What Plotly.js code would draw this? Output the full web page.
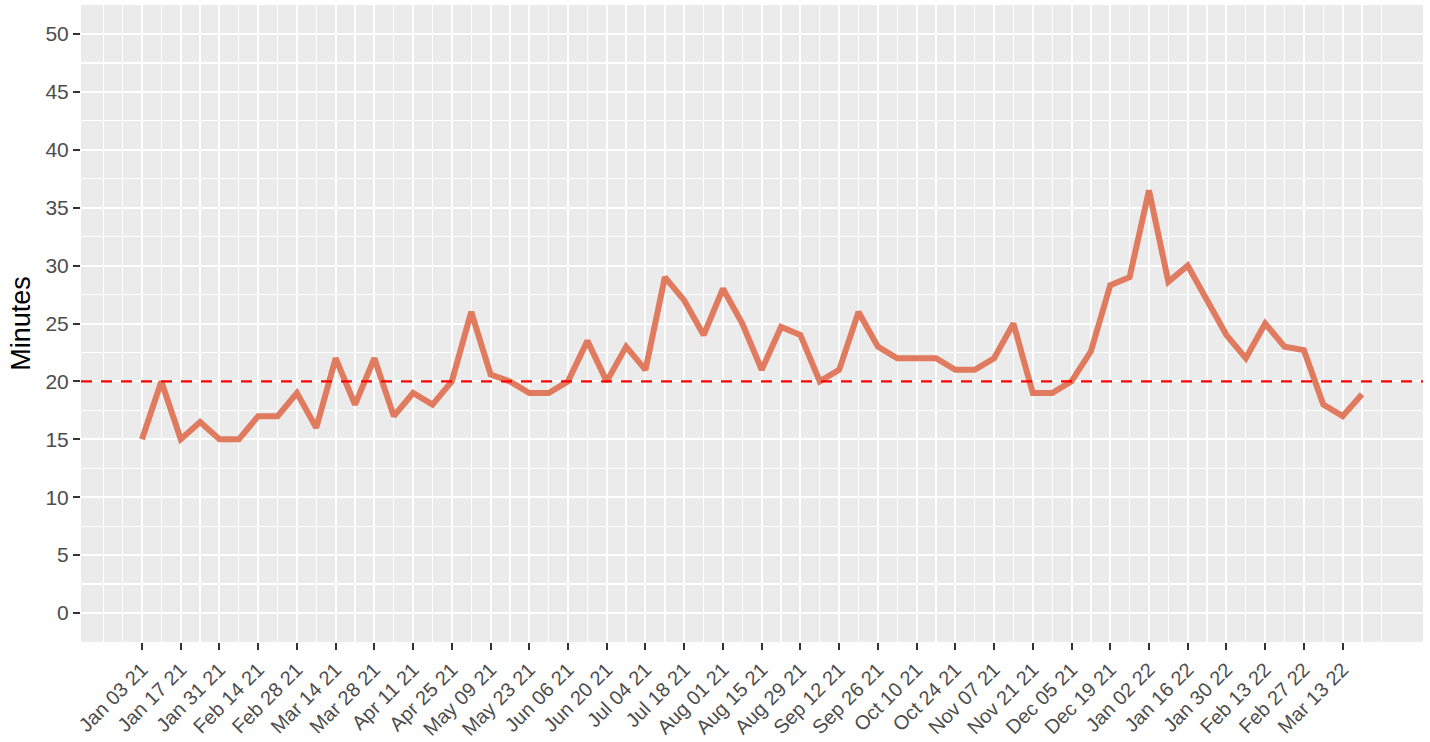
<!DOCTYPE html>
<html>
<head>
<meta charset="utf-8">
<script src="https://cdn.plot.ly/plotly-3.0.1.min.js"></script>
<style>html,body{margin:0;padding:0;background:#fff;}#chart{width:1430px;height:742px;}</style>
</head>
<body>
<div id="chart"></div>
<script>
// Weekly dates (week starting)
const weeks = [
  "2021-01-03","2021-01-10","2021-01-17","2021-01-24","2021-01-31","2021-02-07","2021-02-14","2021-02-21",
  "2021-02-28","2021-03-07","2021-03-14","2021-03-21","2021-03-28","2021-04-04","2021-04-11","2021-04-18",
  "2021-04-25","2021-05-02","2021-05-09","2021-05-16","2021-05-23","2021-05-30","2021-06-06","2021-06-13",
  "2021-06-20","2021-06-27","2021-07-04","2021-07-11","2021-07-18","2021-07-25","2021-08-01","2021-08-08",
  "2021-08-15","2021-08-22","2021-08-29","2021-09-05","2021-09-12","2021-09-19","2021-09-26","2021-10-03",
  "2021-10-10","2021-10-17","2021-10-24","2021-10-31","2021-11-07","2021-11-14","2021-11-21","2021-11-28",
  "2021-12-05","2021-12-12","2021-12-19","2021-12-26","2022-01-02","2022-01-09","2022-01-16","2022-01-23",
  "2022-01-30","2022-02-06","2022-02-13","2022-02-20","2022-02-27","2022-03-06","2022-03-13","2022-03-20"
];
// Minutes per week
const minutes = [
  15, 20, 15, 16.5, 15, 15, 17, 17,
  19, 16, 22, 18, 22, 17, 19, 18,
  20, 26, 20.6, 20, 19, 19, 20, 23.5,
  20, 23, 21, 29, 27, 24, 28, 25,
  21, 24.7, 24, 20, 21, 26, 23, 22,
  22, 22, 21, 21, 22, 25, 19, 19,
  20, 22.6, 28.3, 29, 36.5, 28.6, 30, 27,
  24, 22, 25, 23, 22.7, 18, 17, 18.9
];
// Reference line
const targetMinutes = 20;
// Labeled x ticks
const tickDates = [
  "2021-01-03","2021-01-17","2021-01-31","2021-02-14","2021-02-28","2021-03-14","2021-03-28","2021-04-11",
  "2021-04-25","2021-05-09","2021-05-23","2021-06-06","2021-06-20","2021-07-04","2021-07-18","2021-08-01",
  "2021-08-15","2021-08-29","2021-09-12","2021-09-26","2021-10-10","2021-10-24","2021-11-07","2021-11-21",
  "2021-12-05","2021-12-19","2022-01-02","2022-01-16","2022-01-30","2022-02-13","2022-02-27","2022-03-13"
];
const tickLabels = [
  "Jan 03 21","Jan 17 21","Jan 31 21","Feb 14 21","Feb 28 21","Mar 14 21","Mar 28 21","Apr 11 21",
  "Apr 25 21","May 09 21","May 23 21","Jun 06 21","Jun 20 21","Jul 04 21","Jul 18 21","Aug 01 21",
  "Aug 15 21","Aug 29 21","Sep 12 21","Sep 26 21","Oct 10 21","Oct 24 21","Nov 07 21","Nov 21 21",
  "Dec 05 21","Dec 19 21","Jan 02 22","Jan 16 22","Jan 30 22","Feb 13 22","Feb 27 22","Mar 13 22"
];
// Unlabeled gridline dates
const gridExtraDates = ["2020-12-20","2020-12-27","2021-01-10","2021-01-24","2021-02-07","2021-02-21","2021-03-07",
  "2021-03-21","2021-04-04","2021-04-18","2021-05-02","2021-05-16","2021-05-30","2021-06-13","2021-06-27",
  "2021-07-11","2021-07-25","2021-08-08","2021-08-22","2021-09-05","2021-09-19","2021-10-03","2021-10-17",
  "2021-10-31","2021-11-14","2021-11-28","2021-12-12","2021-12-26","2022-01-09","2022-01-23","2022-02-06",
  "2022-02-20","2022-03-06","2022-03-20","2022-03-27"];
const yTicks = [0,5,10,15,20,25,30,35,40,45,50];
const yMinor = [-2.5,2.5,7.5,12.5,17.5,22.5,27.5,32.5,37.5,42.5,47.5,52.5];

const FONT = "Liberation Sans, Arial, Helvetica, sans-serif";

const trace = {
  x: weeks, y: minutes, type: "scatter", mode: "lines",
  line: {color: "#E07B5F", width: 6},
  hoverinfo: "x+y"
};

const layout = {
  width: 1430, height: 742,
  margin: {l: 81, r: 7, t: 5, b: 100},
  paper_bgcolor: "#ffffff",
  plot_bgcolor: "#EBEBEB",
  showlegend: false,
  font: {family: FONT, color: "#4D4D4D"},
  xaxis: {
    type: "date",
    range: ["2020-12-11 22:48", "2022-04-11 01:12"],
    tickmode: "array", tickvals: tickDates, ticktext: tickLabels,
    tickangle: -45,
    tickfont: {family: FONT, size: 20, color: "#4D4D4D"},
    ticks: "outside", ticklen: 7, tickwidth: 2, tickcolor: "#333333",
    showgrid: true, gridcolor: "#ffffff", gridwidth: 2,
    minor: {tickmode: "array", tickvals: gridExtraDates, showgrid: true, gridcolor: "#ffffff", gridwidth: 1.3, ticks: ""},
    zeroline: false, showline: false, fixedrange: true
  },
  yaxis: {
    range: [-2.5, 52.5],
    tickmode: "array", tickvals: yTicks,
    tickfont: {family: FONT, size: 21, color: "#4D4D4D"},
    ticks: "outside", ticklen: 7, tickwidth: 2, tickcolor: "#333333",
    showgrid: true, gridcolor: "#ffffff", gridwidth: 2,
    minor: {tickmode: "array", tickvals: yMinor, showgrid: true, gridcolor: "#ffffff", gridwidth: 1.3, ticks: ""},
    zeroline: false, showline: false, fixedrange: true,
    title: {text: "Minutes", font: {family: FONT, size: 27, color: "#000000"}, standoff: 6}
  },
  shapes: [{
    type: "line", xref: "paper", x0: 0, x1: 1, yref: "y", y0: targetMinutes, y1: targetMinutes,
    line: {color: "#FF0000", width: 2.2, dash: "11px,9px"}, layer: "above"
  }]
};

Plotly.newPlot("chart", [trace], layout, {displayModeBar: false, staticPlot: true});
</script>
</body>
</html>
